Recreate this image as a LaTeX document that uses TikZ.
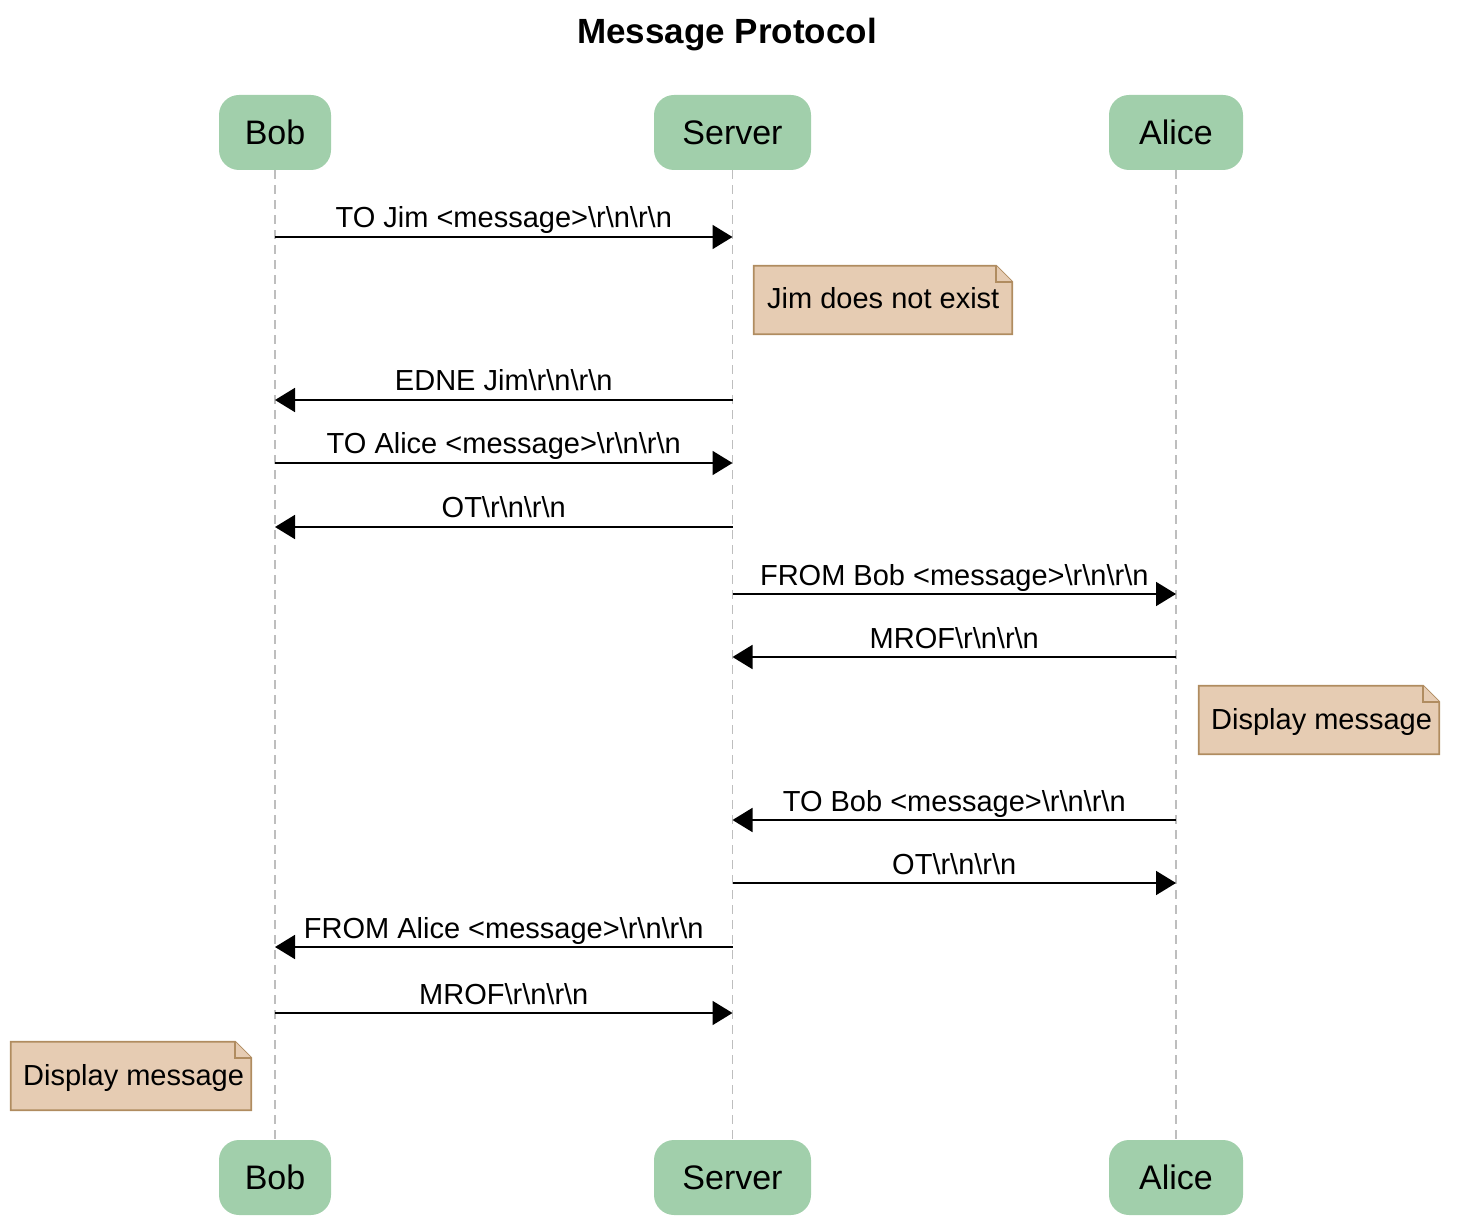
\documentclass[tikz,border=0pt]{standalone}
\usepackage{fontspec}
\setmainfont{Liberation Sans}
\usetikzlibrary{arrows.meta}
\definecolor{partfill}{RGB}{161,207,171}
\definecolor{notefill}{RGB}{230,204,179}
\definecolor{notedraw}{RGB}{176,140,96}
\definecolor{lifegray}{RGB}{190,190,190}
\tikzset{
  participant/.style={rounded corners=20pt, fill=partfill, draw=none, minimum height=75pt, inner sep=0pt, font=\fontsize{34}{40}\selectfont},
  lifeline/.style={draw=lifegray, line width=1.6pt, dash pattern=on 9pt off 6pt},
  msgline/.style={line width=1.8pt, -{Triangle[length=20pt,width=24pt]}},
  msglabel/.style={anchor=base, inner sep=0pt, font=\fontsize{29}{34}\selectfont},
  notebox/.style={inner sep=0pt, font=\fontsize{29}{34}\selectfont},
  noteshape/.style={fill=notefill, draw=notedraw, line width=1.8pt, line join=miter},
}
\newcommand{\notedraw}[2]{% #1 node name, #2 fold size
  \path[noteshape] (#1.north west) -- ([xshift=-#2]#1.north east) -- ([yshift=-#2]#1.north east) -- (#1.south east) -- (#1.south west) -- cycle;
  \path[noteshape] ([xshift=-#2]#1.north east) -- ([xshift=-#2,yshift=-#2]#1.north east) -- ([yshift=-#2]#1.north east);
}
\begin{document}
\begin{tikzpicture}[x=1pt,y=-1pt]
\useasboundingbox (0,0) rectangle (1460,1222);
% title
\node[font=\fontsize{35}{42}\selectfont\bfseries] (title) at (727,35) {Message Protocol};
% participants
\node[participant, minimum width=112pt] (bobT) at (275,132.5) {Bob};
\node[participant, minimum width=157pt] (serverT) at (732.5,132.5) {Server};
\node[participant, minimum width=134pt] (aliceT) at (1176,132.5) {Alice};
\node[participant, minimum width=112pt] (bobB) at (275,1177.5) {Bob};
\node[participant, minimum width=157pt] (serverB) at (732.5,1177.5) {Server};
\node[participant, minimum width=134pt] (aliceB) at (1176,1177.5) {Alice};
% lifelines
\draw[lifeline] (bobT.south) -- (bobB.north);
\draw[lifeline] (serverT.south) -- (serverB.north);
\draw[lifeline] (aliceT.south) -- (aliceB.north);
% message coordinates
\foreach \i/\y in {1/237,2/400,3/463,4/527,5/594,6/657,7/820,8/883,9/947,10/1013}{
  \coordinate (b\i) at (275,\y);
  \coordinate (s\i) at (732.5,\y);
  \coordinate (a\i) at (1176,\y);
}
% messages
\draw[msgline] (b1) -- (s1) node[msglabel, pos=0.5, yshift=9pt] {TO Jim <message>\textbackslash r\textbackslash n\textbackslash r\textbackslash n};
\draw[msgline] (s2) -- (b2) node[msglabel, pos=0.5, yshift=9pt] {EDNE Jim\textbackslash r\textbackslash n\textbackslash r\textbackslash n};
\draw[msgline] (b3) -- (s3) node[msglabel, pos=0.5, yshift=9pt] {TO Alice <message>\textbackslash r\textbackslash n\textbackslash r\textbackslash n};
\draw[msgline] (s4) -- (b4) node[msglabel, pos=0.5, yshift=9pt] {OT\textbackslash r\textbackslash n\textbackslash r\textbackslash n};
\draw[msgline] (s5) -- (a5) node[msglabel, pos=0.5, yshift=9pt] {FROM Bob <message>\textbackslash r\textbackslash n\textbackslash r\textbackslash n};
\draw[msgline] (a6) -- (s6) node[msglabel, pos=0.5, yshift=9pt] {MROF\textbackslash r\textbackslash n\textbackslash r\textbackslash n};
\draw[msgline] (a7) -- (s7) node[msglabel, pos=0.5, yshift=9pt] {TO Bob <message>\textbackslash r\textbackslash n\textbackslash r\textbackslash n};
\draw[msgline] (s8) -- (a8) node[msglabel, pos=0.5, yshift=9pt] {OT\textbackslash r\textbackslash n\textbackslash r\textbackslash n};
\draw[msgline] (s9) -- (b9) node[msglabel, pos=0.5, yshift=9pt] {FROM Alice <message>\textbackslash r\textbackslash n\textbackslash r\textbackslash n};
\draw[msgline] (b10) -- (s10) node[msglabel, pos=0.5, yshift=9pt] {MROF\textbackslash r\textbackslash n\textbackslash r\textbackslash n};
% notes
\node[notebox, minimum width=258pt, minimum height=68pt] (note1) at (883,300) {};
\notedraw{note1}{16pt}
\node[notebox, anchor=base west] (note1t) at (767,309) {Jim does not exist};
\node[notebox, minimum width=240pt, minimum height=68pt] (note2) at (1319,720) {};
\notedraw{note2}{16pt}
\node[notebox, anchor=base west] (note2t) at (1211,729) {Display message};
\node[notebox, minimum width=240pt, minimum height=68pt] (note3) at (131,1076) {};
\notedraw{note3}{16pt}
\node[notebox, anchor=base west] (note3t) at (23,1085) {Display message};
\end{tikzpicture}
\end{document}
